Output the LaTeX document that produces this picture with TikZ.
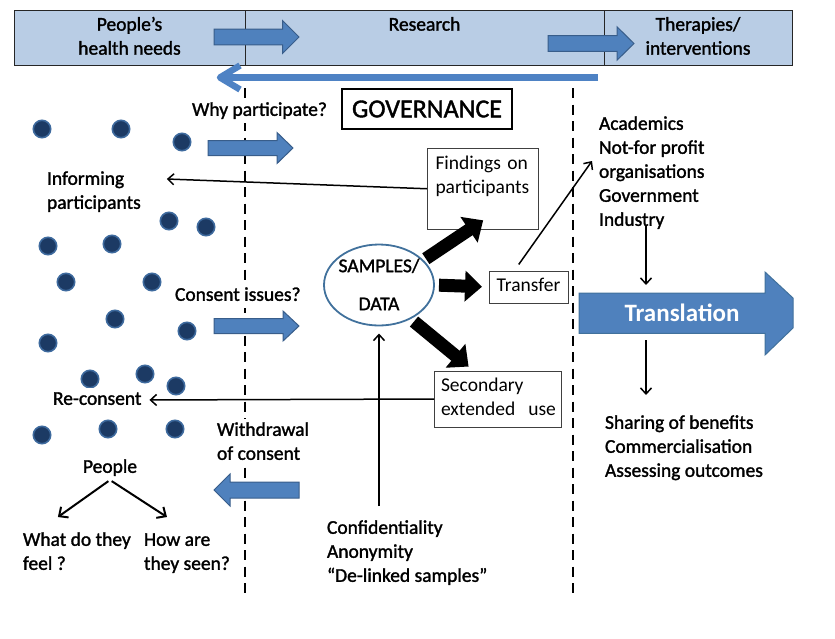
\documentclass[tikz,border=0pt]{standalone}
\usepackage{fontspec}
\setmainfont{Carlito}
\newfontfamily\hvfont{Carlito}[FakeBold=1.5]
\usetikzlibrary{shapes.geometric,arrows.meta,calc}
\definecolor{bandfill}{HTML}{B9CDE5}
\definecolor{arrfill}{HTML}{4F81BD}
\definecolor{arrdraw}{HTML}{385D8A}
\definecolor{dotfill}{HTML}{1C3A64}
\definecolor{dotring}{HTML}{3E6A9E}
\definecolor{ellcol}{HTML}{41719C}
\definecolor{longblue}{HTML}{4E82C4}
\newcommand{\mybr}{\strut\\\strut}
\newcommand{\blkarrow}[6]{%
  \filldraw[barrow] (#1,#3-#4) -- (#6,#3-#4) -- (#6,#3-#5) -- (#2,#3) -- (#6,#3+#5) -- (#6,#3+#4) -- (#1,#3+#4) -- cycle;}
\begin{document}
\begin{tikzpicture}[x=1pt,y=-1pt,
  every node/.style={inner sep=0pt, outer sep=0pt},
  txt/.style={font=\hvfont\fontsize{19.5}{24}\selectfont, align=left,
    execute at begin node=\strut, execute at end node=\strut},
  wtxt/.style={txt, fill=white},
  band/.style={txt, align=center, draw=black!85, line width=0.8pt, fill=bandfill, minimum height=54.3pt},
  boxnode/.style={txt, font=\fontsize{19.5}{24}\selectfont, draw=black!75, line width=1pt, fill=white},
  barrow/.style={fill=arrfill, draw=arrdraw, line width=1pt},
  dashline/.style={line width=2.8pt, dash pattern=on 10pt off 6.5pt},
  thinarr/.style={line width=1.5pt, -{Straight Barb[length=6pt,width=11pt]}},
  peoplearr/.style={line width=2pt, -{Straight Barb[length=7pt,width=13pt]}},
  bigarr/.style={line width=13pt, -{Triangle[length=17pt,width=30pt]}},
  dot/.style={fill=dotfill, draw=dotring, line width=1.6pt}]
\useasboundingbox (0,0) rectangle (835,638);

% top band
\node[band, minimum width=231pt] (needs) at (129.5,37.85) {People’s\mybr health needs};
\node[band, minimum width=359pt] (research) at (424.5,37.85) {Research\mybr};
\node[band, minimum width=188pt] (therapies) at (698,37.85) {Therapies/\mybr interventions};
\blkarrow{214}{299}{37}{7.8}{16.3}{282.7}
\blkarrow{548}{634}{43.5}{7.8}{16.7}{617}

% long feedback arrow
\draw[longblue, line width=7pt] (598,77.5) -- (222,77.5);
\draw[longblue, line width=6.5pt, line join=round] (240,65.5) -- (220,77.5) -- (240,89.5);

% dashed separators
\draw[dashline] (245,88) -- (245,598);
\draw[dashline] (573,88) -- (573,598);

% governance
\node[draw, line width=1.2pt, fill=white, minimum width=170pt, minimum height=40pt,
  font=\hvfont\fontsize{26}{30}\selectfont] (gov) at (427,109) {GOVERNANCE};

% people dots
\foreach \p in {(42,129),(121,129),(182,142),(169,221),(206,227),(48,246),(112,244),
  (66,282),(152,282),(115,319),(187,331),(48,343),(90,379),(145,374),(176,386),
  (42,435),(108,429),(175,429)}
  \filldraw[dot] \p circle[radius=8.7pt];

% left texts
\node[wtxt] (why) at (259.5,111) {Why participate?};
\blkarrow{208}{293}{148}{7.5}{15.5}{277}
\node[wtxt, anchor=north west] (informing) at (47,168) {Informing\mybr participants};
\node[wtxt, anchor=west] (consent) at (175,296) {Consent issues?};
\blkarrow{214}{299}{326}{7.5}{15}{283}
\node[wtxt, anchor=west] (reconsent) at (53,400) {Re-consent};
\node[wtxt, anchor=north west] (withdrawal) at (217,419) {Withdrawal\mybr of consent};
\blkarrow{299}{214}{490}{8}{16}{230}
\node[wtxt] (people) at (110,468) {People};
\node[wtxt, anchor=north west] (feel) at (23,529) {What do they\mybr feel ?};
\node[wtxt, anchor=north west] (seen) at (144,529) {How are\mybr they seen?};
\node[wtxt, anchor=north west] (conf) at (327,517) {Confidentiality\mybr Anonymity\mybr “De-linked samples”};

% centre
\node[ellipse, draw=ellcol, line width=1.8pt, minimum width=110pt, minimum height=81pt] (samples) at (379,285) {};
\node[txt, align=center] (samplestxt) at ([yshift=-3pt]samples.center) {SAMPLES/\\[14pt]DATA};
\node[boxnode, anchor=north west, text width=94pt, inner xsep=8.5pt, inner ysep=4.25pt] (findings) at (427,148.5) {Findings on\mybr participants\mybr};
\node[boxnode, minimum width=79pt, minimum height=32pt] (transfer) at (528.5,287) {Transfer};
\node[boxnode, anchor=north west, text width=113pt, inner xsep=7pt, inner ysep=4pt] (secondary) at (434,371) {Secondary\mybr extended~~use};

% right
\node[wtxt, anchor=north west] (orgs) at (599,113) {Academics\mybr Not-for profit\mybr organisations\mybr Government\mybr Industry};
\filldraw[fill=arrfill, draw=ellcol, line width=1pt] (579,293) -- (765,293) -- (765,272) -- (793,298) -- (793,328) -- (765,355) -- (765,333.3) -- (579,333.3) -- cycle;
\node[minimum width=186pt, minimum height=40.3pt] (transl) at (672,313.15) {};
\node[text=white, font=\fontsize{25}{30}\selectfont\bfseries] (transltxt) at (682,313) {Translation};
\node[wtxt, anchor=north west] (outcomes) at (605,412) {Sharing of benefits\mybr Commercialisation\mybr Assessing outcomes};
\coordinate (ax) at (646,0);

% connectors
\draw[bigarr, shorten <=3.5pt, shorten >=-15.6pt] (samples.29) -- (findings.-107);
\draw[bigarr, shorten <=5pt, shorten >=7pt] (samples.east) -- (transfer.west);
\draw[bigarr, shorten <=5pt, shorten >=7pt] (samples.-47) -- (secondary.130);
\draw[thinarr] (findings.west) -- ($(informing.north east)+(26,11)$);
\draw[thinarr, shorten >=8pt] (secondary.west) -- (reconsent.east);
\draw[thinarr, shorten <=11pt, shorten >=8pt] (conf.north -| samples.south) -- (samples.south);
\draw[thinarr, shorten <=8pt] (transfer.132) -- ($(orgs.west)+(-7,-12)$);
\draw[thinarr, shorten <=-8pt, shorten >=8pt] (orgs.south -| ax) -- (transl.north -| ax);
\draw[thinarr, shorten <=7pt, shorten >=17pt] (transl.south -| ax) -- (outcomes.north -| ax);
\draw[peoplearr, shorten <=2pt] (people.south) -- ($(feel.north)+(-19,-12)$);
\draw[peoplearr, shorten <=2pt] (people.south) -- ($(seen.north)+(-20,-12)$);
\end{tikzpicture}
\end{document}
